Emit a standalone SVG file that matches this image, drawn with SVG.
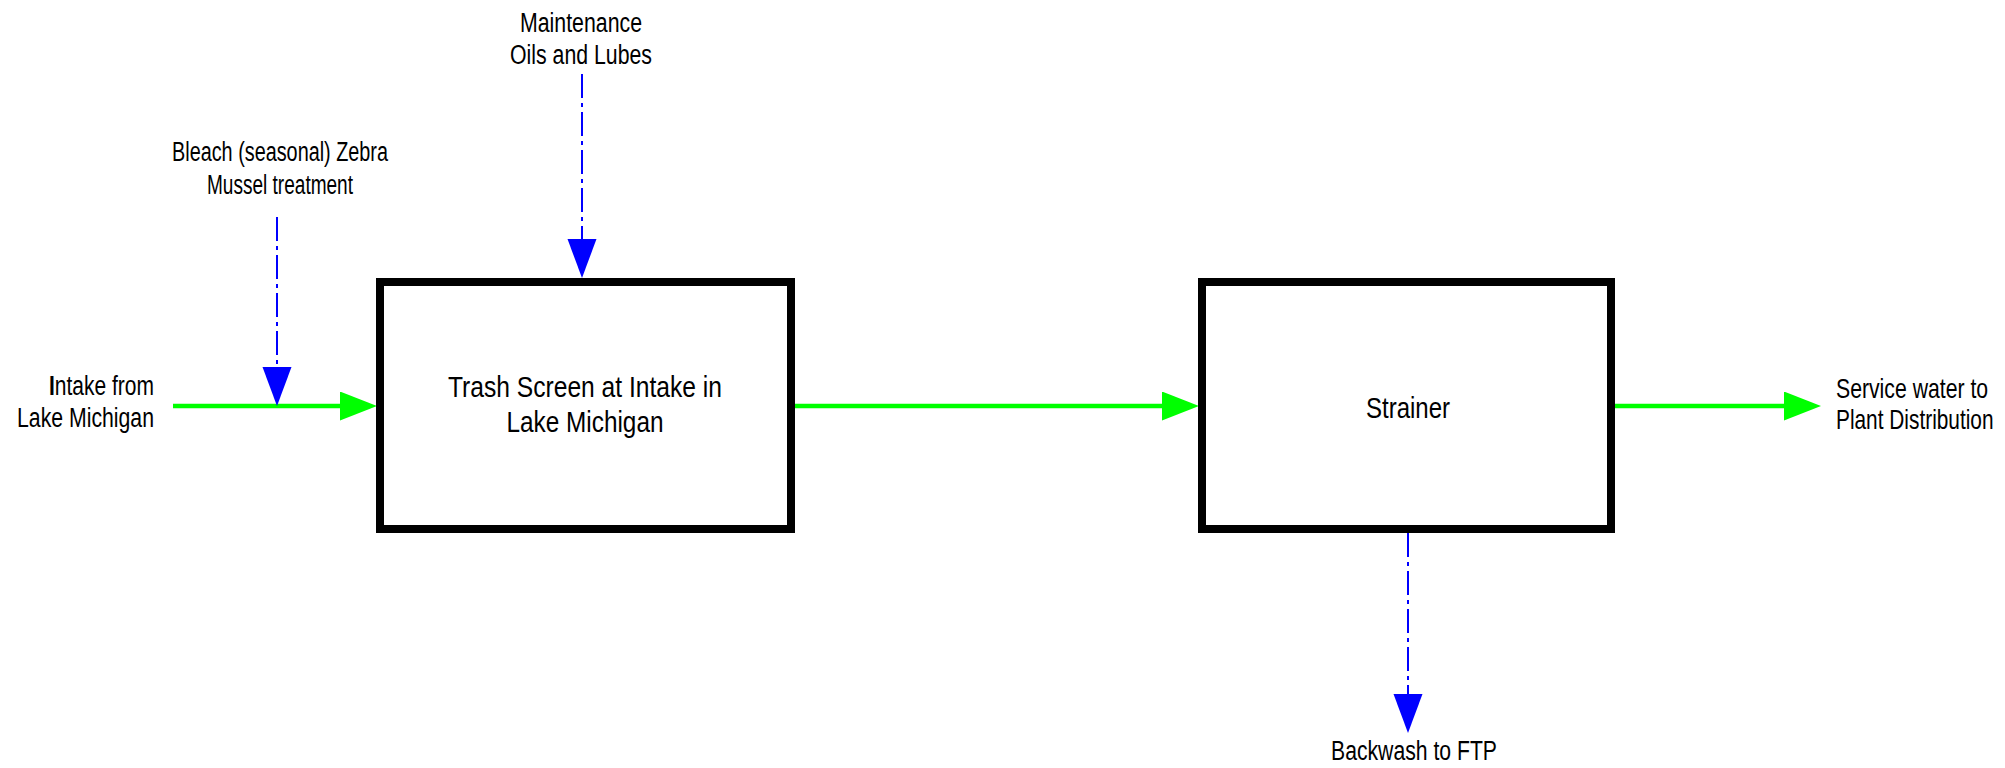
<svg xmlns="http://www.w3.org/2000/svg" width="2005" height="768" viewBox="0 0 2005 768">
<style>
.box{fill:#fff;stroke:#000;stroke-width:8}
.t{font-family:"Liberation Sans Narrow","Liberation Sans",Arial,sans-serif;fill:#000}
.lbl{font-size:27px}
.big{font-size:30px}
.flow{stroke:#00ff00;stroke-width:4.5;fill:none}
.chem{stroke:#0000ff;stroke-width:2;fill:none;stroke-dasharray:24 5 4 5}
</style>
<defs>
<marker id="ag" markerUnits="userSpaceOnUse" markerWidth="38" markerHeight="30" refX="0" refY="14.5" orient="auto">
<path d="M0,0 L37,14.5 L0,29 z" fill="#00ff00"/>
</marker>
<marker id="ab" markerUnits="userSpaceOnUse" markerWidth="40" markerHeight="30" refX="0" refY="14.5" orient="auto">
<path d="M0,0 L39,14.5 L0,29 z" fill="#0000ff"/>
</marker>
</defs>
<g id="connectors">
<path class="flow" d="M173,406 L340,406" marker-end="url(#ag)"/>
<path class="flow" d="M795,406 L1162,406" marker-end="url(#ag)"/>
<path class="flow" d="M1615,406 L1784,406" marker-end="url(#ag)"/>
<path class="chem" d="M277,217 L277,367" marker-end="url(#ab)"/>
<path class="chem" d="M582,74 L582,239" marker-end="url(#ab)"/>
<path class="chem" d="M1408,533 L1408,694" marker-end="url(#ab)"/>
</g>
<g id="trash-screen">
<rect class="box" x="380" y="282" width="411" height="247"/>
<text class="t big" x="585" y="397" text-anchor="middle" textLength="274" lengthAdjust="spacingAndGlyphs">Trash Screen at Intake in</text>
<text class="t big" x="585" y="432" text-anchor="middle" textLength="157" lengthAdjust="spacingAndGlyphs">Lake Michigan</text>
</g>
<g id="strainer">
<rect class="box" x="1202" y="282" width="409" height="247"/>
<text class="t big" x="1408" y="418" text-anchor="middle" textLength="84" lengthAdjust="spacingAndGlyphs">Strainer</text>
</g>
<g id="intake">
<text class="t lbl" x="49" y="395" textLength="105" lengthAdjust="spacingAndGlyphs"><tspan font-weight="bold">I</tspan>ntake from</text>
<text class="t lbl" x="17" y="427" textLength="137" lengthAdjust="spacingAndGlyphs">Lake Michigan</text>
</g>
<g id="bleach">
<text class="t lbl" x="280" y="161" text-anchor="middle" textLength="216" lengthAdjust="spacingAndGlyphs">Bleach (seasonal) Zebra</text>
<text class="t lbl" x="280" y="194" text-anchor="middle" textLength="146" lengthAdjust="spacingAndGlyphs">Mussel treatment</text>
</g>
<g id="maintenance">
<text class="t lbl" x="581" y="32" text-anchor="middle" textLength="122" lengthAdjust="spacingAndGlyphs">Maintenance</text>
<text class="t lbl" x="581" y="64" text-anchor="middle" textLength="142" lengthAdjust="spacingAndGlyphs">Oils and Lubes</text>
</g>
<g id="service-water" transform="translate(1836,0) scale(0.78,1)">
<text class="t lbl" x="0" y="398" textLength="195" lengthAdjust="spacingAndGlyphs">Service water to</text>
<text class="t lbl" x="0" y="429" textLength="202" lengthAdjust="spacingAndGlyphs">Plant Distribution</text>
</g>
<g id="backwash">
<text class="t lbl" x="1414" y="760" text-anchor="middle" textLength="166" lengthAdjust="spacingAndGlyphs">Backwash to FTP</text>
</g>
</svg>
